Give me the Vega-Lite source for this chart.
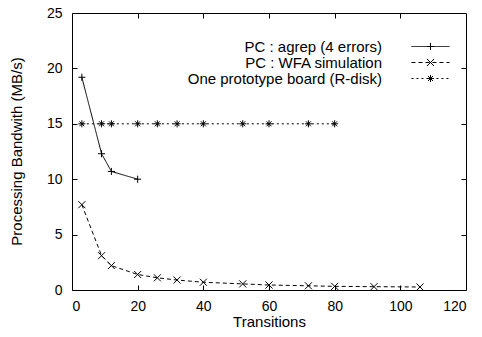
{
  "$schema": "https://vega.github.io/schema/vega-lite/v6.json",
  "width": 394,
  "height": 277,
  "autosize": "none",
  "padding": {"left": 72, "top": 13, "right": 16, "bottom": 47},
  "background": "white",
  "config": {
    "font": "Liberation Sans",
    "view": {"stroke": "black", "strokeWidth": 1},
    "axis": {
      "domain": false,
      "grid": false,
      "tickColor": "black",
      "tickWidth": 1,
      "tickSize": -5,
      "labelColor": "black",
      "labelFontSize": 14,
      "titleColor": "black",
      "titleFontSize": 15,
      "titleFontWeight": "normal"
    },
    "legend": {
      "labelFontSize": 15,
      "labelColor": "black",
      "labelLimit": 400,
      "padding": 0,
      "rowPadding": 0
    }
  },
  "data": {
    "values": [
      {"series": "PC : agrep (4 errors)", "t": 3, "bw": 19.2},
      {"series": "PC : agrep (4 errors)", "t": 9, "bw": 12.3},
      {"series": "PC : agrep (4 errors)", "t": 12, "bw": 10.7},
      {"series": "PC : agrep (4 errors)", "t": 20, "bw": 10.0},
      {"series": "PC : WFA simulation", "t": 3, "bw": 7.7},
      {"series": "PC : WFA simulation", "t": 9, "bw": 3.1},
      {"series": "PC : WFA simulation", "t": 12, "bw": 2.2},
      {"series": "PC : WFA simulation", "t": 20, "bw": 1.4},
      {"series": "PC : WFA simulation", "t": 26, "bw": 1.1},
      {"series": "PC : WFA simulation", "t": 32, "bw": 0.9},
      {"series": "PC : WFA simulation", "t": 40, "bw": 0.7},
      {"series": "PC : WFA simulation", "t": 52, "bw": 0.55},
      {"series": "PC : WFA simulation", "t": 60, "bw": 0.45},
      {"series": "PC : WFA simulation", "t": 72, "bw": 0.38},
      {"series": "PC : WFA simulation", "t": 80, "bw": 0.33},
      {"series": "PC : WFA simulation", "t": 92, "bw": 0.3},
      {"series": "PC : WFA simulation", "t": 106, "bw": 0.27},
      {"series": "One prototype board (R-disk)", "t": 3, "bw": 15},
      {"series": "One prototype board (R-disk)", "t": 9, "bw": 15},
      {"series": "One prototype board (R-disk)", "t": 12, "bw": 15},
      {"series": "One prototype board (R-disk)", "t": 20, "bw": 15},
      {"series": "One prototype board (R-disk)", "t": 26, "bw": 15},
      {"series": "One prototype board (R-disk)", "t": 32, "bw": 15},
      {"series": "One prototype board (R-disk)", "t": 40, "bw": 15},
      {"series": "One prototype board (R-disk)", "t": 52, "bw": 15},
      {"series": "One prototype board (R-disk)", "t": 60, "bw": 15},
      {"series": "One prototype board (R-disk)", "t": 72, "bw": 15},
      {"series": "One prototype board (R-disk)", "t": 80, "bw": 15}
    ]
  },
  "layer": [
    {
      "mark": {"type": "line", "color": "black", "strokeWidth": 1},
      "encoding": {
        "x": {
          "field": "t", "type": "quantitative",
          "scale": {"domain": [0, 120], "nice": false},
          "axis": {"orient": "top", "labels": false, "title": null, "values": [20, 40, 60, 80, 100]}
        },
        "y": {
          "field": "bw", "type": "quantitative",
          "scale": {"domain": [0, 25], "nice": false},
          "axis": {"orient": "right", "labels": false, "title": null, "values": [5, 10, 15, 20]}
        },
        "strokeDash": {
          "field": "series", "type": "nominal",
          "scale": {
            "domain": ["PC : agrep (4 errors)", "PC : WFA simulation", "One prototype board (R-disk)"],
            "range": [[1, 0], [4, 3], [2, 3]]
          },
          "legend": {
            "title": null,
            "orient": "none",
            "legendX": 351,
            "legendY": 26,
            "symbolType": "M-5,0H5",
            "symbolSize": 58,
            "symbolStrokeColor": "black",
            "symbolStrokeWidth": 1,
            "labelAlign": "right",
            "labelOffset": -56
          }
        }
      }
    },
    {
      "mark": {"type": "point", "filled": false, "stroke": "black", "strokeWidth": 1, "size": 50, "opacity": 1},
      "encoding": {
        "x": {
          "field": "t", "type": "quantitative",
          "scale": {"domain": [0, 120], "nice": false},
          "axis": {"orient": "bottom", "title": "Transitions", "values": [0, 20, 40, 60, 80, 100, 120], "labelPadding": 14, "titleY": 36, "titleBaseline": "alphabetic"}
        },
        "y": {
          "field": "bw", "type": "quantitative",
          "scale": {"domain": [0, 25], "nice": false},
          "axis": {"orient": "left", "title": "Processing Bandwith (MB/s)", "values": [0, 5, 10, 15, 20, 25], "labelPadding": 15, "titleX": -56, "titleY": 138, "titleBaseline": "middle", "titleAlign": "center", "titleAngle": 270}
        },
        "shape": {
          "field": "series", "type": "nominal",
          "scale": {
            "domain": ["One prototype board (R-disk)", "PC : agrep (4 errors)", "PC : WFA simulation"],
            "range": ["M-1,0H1M0,-1V1M-0.7,-0.7L0.7,0.7M-0.7,0.7L0.7,-0.7", "M-1,0H1M0,-1V1", "M-1,-1L1,1M-1,1L1,-1"]
          },
          "legend": {
            "title": null,
            "orient": "none",
            "legendX": 351,
            "legendY": 26,
            "values": ["PC : agrep (4 errors)", "PC : WFA simulation", "One prototype board (R-disk)"],
            "symbolSize": 50,
            "symbolStrokeColor": "black",
            "symbolFillColor": "transparent",
            "symbolStrokeWidth": 1,
            "labelExpr": "''"
          }
        }
      }
    }
  ],
  "resolve": {"axis": {"x": "independent", "y": "independent"}}
}
